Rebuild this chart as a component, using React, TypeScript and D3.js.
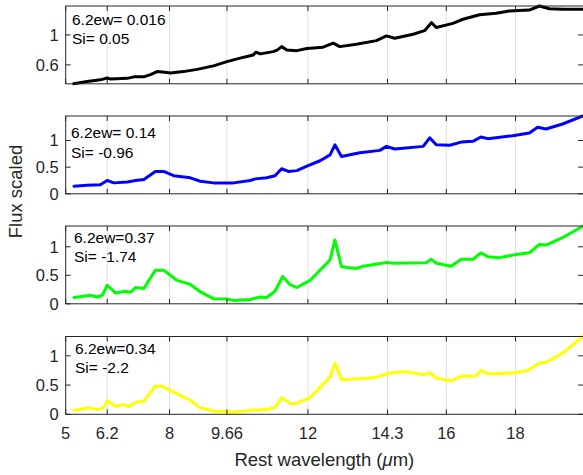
import * as d3 from "d3";

// wavelength (um) and scaled flux for each spectrum
const wlBlack = [5.23, 5.62, 6.0, 6.2, 6.3, 6.78, 6.97, 7.25, 7.45, 7.64, 7.8, 8.03, 8.4, 8.8, 9.27, 9.66, 10.04, 10.42, 10.5, 10.62, 11.0, 11.12, 11.24, 11.39, 11.68, 11.97, 12.44, 12.73, 12.92, 13.4, 13.98, 14.27, 14.51, 15.04, 15.37, 15.57, 15.71, 16.19, 16.48, 16.96, 17.44, 17.82, 18.4, 18.69, 18.98, 19.36, 19.95];
const fluxBlack = [0.347, 0.378, 0.4, 0.425, 0.41, 0.42, 0.44, 0.44, 0.47, 0.51, 0.505, 0.49, 0.51, 0.54, 0.587, 0.644, 0.69, 0.733, 0.77, 0.747, 0.777, 0.8, 0.844, 0.8, 0.79, 0.82, 0.836, 0.89, 0.844, 0.875, 0.924, 0.987, 0.956, 1.01, 1.057, 1.164, 1.1, 1.155, 1.21, 1.27, 1.29, 1.32, 1.333, 1.387, 1.35, 1.343, 1.343];

const wlBlue = [5.24, 5.62, 6.0, 6.2, 6.39, 6.78, 7.02, 7.26, 7.59, 7.83, 8.12, 8.6, 8.89, 9.27, 9.85, 10.33, 10.48, 10.81, 11.05, 11.24, 11.44, 11.68, 11.97, 12.35, 12.64, 12.78, 12.97, 13.5, 14.08, 14.27, 14.51, 15.33, 15.52, 15.71, 16.1, 16.43, 16.77, 17.0, 17.2, 17.92, 18.4, 18.64, 18.88, 19.36, 19.95];
const fluxBlue = [0.14, 0.16, 0.17, 0.25, 0.205, 0.22, 0.25, 0.27, 0.42, 0.42, 0.34, 0.3, 0.235, 0.205, 0.205, 0.25, 0.28, 0.3, 0.34, 0.47, 0.42, 0.435, 0.52, 0.62, 0.73, 0.92, 0.7, 0.77, 0.815, 0.89, 0.84, 0.89, 1.05, 0.92, 0.91, 0.97, 0.985, 1.065, 1.035, 1.09, 1.14, 1.25, 1.215, 1.31, 1.46];

const wlGreen = [5.24, 5.72, 5.91, 6.06, 6.2, 6.44, 6.73, 6.87, 7.02, 7.26, 7.59, 7.83, 8.22, 8.6, 8.89, 9.27, 9.66, 9.85, 10.33, 10.62, 10.81, 11.05, 11.27, 11.48, 11.68, 12.06, 12.64, 12.78, 12.97, 13.4, 13.6, 14.27, 14.46, 15.42, 15.57, 15.71, 16.14, 16.43, 16.77, 17.0, 17.2, 17.54, 17.92, 18.4, 18.69, 18.88, 19.36, 19.95];
const fluxGreen = [0.11, 0.15, 0.12, 0.15, 0.325, 0.19, 0.22, 0.2, 0.285, 0.27, 0.59, 0.59, 0.41, 0.34, 0.21, 0.09, 0.085, 0.06, 0.075, 0.12, 0.11, 0.22, 0.48, 0.34, 0.285, 0.41, 0.77, 1.12, 0.65, 0.62, 0.66, 0.725, 0.71, 0.72, 0.78, 0.71, 0.66, 0.78, 0.78, 0.895, 0.825, 0.81, 0.855, 0.895, 1.04, 1.03, 1.16, 1.365];

const wlYellow = [5.24, 5.53, 5.72, 5.91, 6.09, 6.2, 6.44, 6.68, 6.82, 7.02, 7.26, 7.59, 7.79, 8.22, 8.6, 8.89, 9.27, 9.85, 10.43, 10.81, 11.05, 11.24, 11.48, 11.63, 12.06, 12.64, 12.78, 12.97, 13.6, 13.98, 14.37, 14.85, 15.33, 15.52, 15.71, 16.14, 16.43, 16.86, 17.0, 17.2, 17.92, 18.35, 18.69, 18.88, 19.36, 19.95];
const fluxYellow = [0.07, 0.095, 0.11, 0.08, 0.11, 0.23, 0.135, 0.165, 0.135, 0.2, 0.23, 0.48, 0.48, 0.35, 0.24, 0.11, 0.057, 0.04, 0.07, 0.08, 0.125, 0.285, 0.19, 0.18, 0.285, 0.635, 0.875, 0.59, 0.61, 0.635, 0.705, 0.73, 0.675, 0.71, 0.62, 0.57, 0.65, 0.66, 0.75, 0.695, 0.705, 0.75, 0.875, 0.89, 1.045, 1.33];

const ew62 = ["0.016", "0.14", "0.37", "0.34"];
const silicate = ["0.05", "-0.96", "-1.74", "-2.2"];
const xTicks = [5, 6.2, 8, 9.66, 12, 14.3, 16, 18];
const yTicksTop = [0.6, 1];
const yTicksRest = [0, 0.5, 1];

const series = [
  { wl: wlBlack, flux: fluxBlack, color: "#000000", ticks: yTicksTop, label: `6.2ew= ${ew62[0]}`, si: `Si= ${silicate[0]}` },
  { wl: wlBlue, flux: fluxBlue, color: "#0000ff", ticks: yTicksRest, label: `6.2ew= ${ew62[1]}`, si: `Si= ${silicate[1]}` },
  { wl: wlGreen, flux: fluxGreen, color: "#00ff00", ticks: yTicksRest, label: `6.2ew=${ew62[2]}`, si: `Si= ${silicate[2]}` },
  { wl: wlYellow, flux: fluxYellow, color: "#ffff00", ticks: yTicksRest, label: `6.2ew=${ew62[3]}`, si: `Si= ${silicate[3]}` },
];

// layout
const width = 583;
const height = 475;
const left = 65.7;
const right = 583;
const panelTops = [6, 116, 226, 336.5];
const panelH = 77.8;
const textX = [72, 71, 74, 75];
const textY = [13, 16.5, 11, 11.5];
const axisColor = "#262626";
const font = "'Liberation Sans', Arial, Helvetica, sans-serif";
const tickLen = 5;

const x = d3.scaleLinear().domain([5, 19.95]).range([left, right]);

const App = () => {
  return (
    <div style={{ position: "absolute", left: 0, top: 0 }}>
      <svg width={width} height={height} style={{ display: "block", background: "#fff" }}>
        {series.map((s, i) => {
          const top = panelTops[i];
          const bottom = top + panelH;
          const lo = i === 0 ? (d3.min(s.flux) as number) : 0;
          const hi = d3.max(s.flux) as number;
          const y = d3.scaleLinear().domain([lo, hi]).range([bottom, top]);
          const pts = s.wl.map((w, k) => [w, s.flux[k]] as [number, number]);
          const line = d3
            .line<[number, number]>()
            .x((d) => x(d[0]))
            .y((d) => y(d[1]));
          const clipId = `clip${i}`;
          return (
            <g key={i}>
              <defs>
                <clipPath id={clipId}>
                  <rect x={left} y={top - 2} width={right - left + 2} height={panelH + 4} />
                </clipPath>
              </defs>
              {/* vertical grid */}
              {xTicks.slice(1).map((t) => (
                <line key={t} x1={x(t)} x2={x(t)} y1={top} y2={bottom} stroke={axisColor} strokeOpacity={0.15} />
              ))}
              <path
                d={line(pts) ?? ""}
                fill="none"
                stroke={s.color}
                strokeWidth={3}
                strokeLinejoin="round"
                strokeLinecap="round"
                clipPath={`url(#${clipId})`}
              />
              {/* box */}
              <rect x={left} y={top} width={right - left + 1} height={panelH} fill="none" stroke={axisColor} strokeWidth={1} />
              {/* x ticks top and bottom */}
              {xTicks.map((t) => (
                <g key={t}>
                  <line x1={x(t)} x2={x(t)} y1={bottom} y2={bottom - tickLen} stroke={axisColor} />
                  <line x1={x(t)} x2={x(t)} y1={top} y2={top + tickLen} stroke={axisColor} />
                </g>
              ))}
              {/* y ticks */}
              {s.ticks.map((t) => (
                <g key={t}>
                  <line x1={left} x2={left + tickLen} y1={y(t)} y2={y(t)} stroke={axisColor} />
                  <line x1={right} x2={right - tickLen} y1={y(t)} y2={y(t)} stroke={axisColor} />
                  <text
                    x={left - 7}
                    y={y(t)}
                    dy="0.36em"
                    textAnchor="end"
                    fontFamily={font}
                    fontSize={16.5}
                    fill={axisColor}
                  >
                    {t}
                  </text>
                </g>
              ))}
              <text x={textX[i]} y={top + textY[i]} dy="0.36em" fontFamily={font} fontSize={15.5} fill="#000">
                {s.label}
              </text>
              <text x={textX[i]} y={top + textY[i] + 19.5} dy="0.36em" fontFamily={font} fontSize={15.5} fill="#000">
                {s.si}
              </text>
            </g>
          );
        })}
        {/* x tick labels on bottom panel */}
        {xTicks.map((t) => (
          <text key={t} x={x(t)} y={439.3} textAnchor="middle" fontFamily={font} fontSize={16.5} fill={axisColor}>
            {t}
          </text>
        ))}
        <text x={(left + right) / 2} y={466} textAnchor="middle" fontFamily={font} fontSize={18.5} fill={axisColor}>
          Rest wavelength (<tspan fontStyle="italic">μ</tspan>m)
        </text>
        <text
          transform={`translate(21.5, 191.5) rotate(-90)`}
          textAnchor="middle"
          fontFamily={font}
          fontSize={18.5}
          fill={axisColor}
        >
          Flux scaled
        </text>
      </svg>
    </div>
  );
};

export default App;
